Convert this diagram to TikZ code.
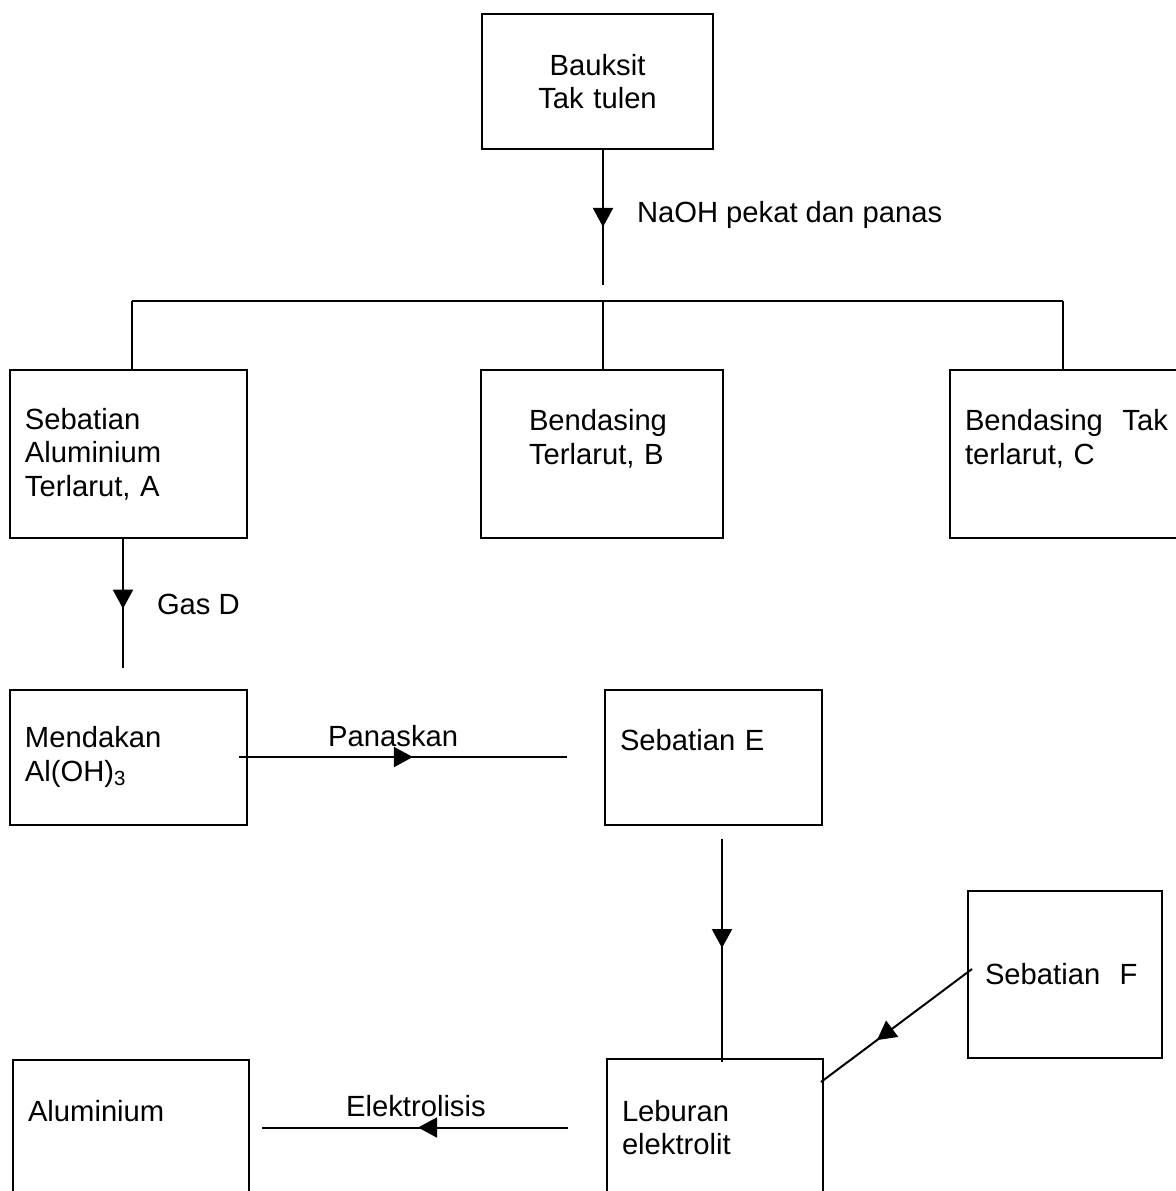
\documentclass[tikz,border=0pt]{standalone}
\usepackage{fontspec}
\setmainfont{Liberation Sans}
\usepackage{tikz}
\usetikzlibrary{arrows.meta, decorations.markings, positioning}
\newcommand{\diafont}{\fontsize{14.6}{16.8}\selectfont}
\tikzset{
  box/.style={rectangle, draw=black, line width=1pt, align=left, inner xsep=7.5pt, inner ysep=0pt, font=\diafont},
  plainline/.style={line width=1pt},
  flowline/.style={line width=1pt, postaction={decorate},
    decoration={markings, mark=at position #1 with {\arrow{Triangle[length=9.5pt, width=10pt]}}}},
  lbl/.style={inner sep=0pt, font=\diafont},
}
\begin{document}
\begin{tikzpicture}[x=0.5pt, y=-0.5pt]
\useasboundingbox (0,0) rectangle (1176,1191);

\node[box, align=center, text width=100.5pt, minimum height=67.5pt] (bauksit) at (597.5,81.5) {Bauksit\\Tak tulen};

\node[box, text width=103.5pt, minimum height=84pt] (solA) at (128.5,454) {Sebatian\\Aluminium\\Terlarut, A};
\node[box, inner xsep=24pt, text width=73pt, minimum height=84pt] (impB) at (602,454) {Bendasing\\Terlarut, B\\\mbox{}};
\node[box, text width=105pt, minimum height=84pt] (impC) at (1070,454) {Bendasing~~Tak\\terlarut, C\\\mbox{}};

\node[box, text width=103.5pt, minimum height=67.5pt] (ppt) at (128.5,757) {Mendakan\\Al(OH)\textsubscript{3}};
\node[box, text width=93.5pt, minimum height=67.5pt] (cmpE) at (713.5,757) {Sebatian E\\\mbox{}};

\node[box, inner xsep=8.5pt, text width=80pt, minimum height=83.5pt] (cmpF) at (1065,974.5) {Sebatian~~F};

\node[box, text width=93pt, minimum height=68.5pt] (melt) at (715,1127.5) {Leburan\\elektrolit};
\node[box, text width=103pt, minimum height=67.5pt] (alum) at (131,1127.5) {Aluminium\\\mbox{}};

% bauksit and the split into A, B, C
\coordinate (tee) at (603,285);
\coordinate (barL) at (132,301);
\coordinate (barM) at (603,301);
\coordinate (barR) at (1063,301);
\draw[flowline=0.57] (bauksit.south -| tee) -- (tee) node[lbl, pos=0.48, anchor=west, xshift=16.5pt] {NaOH pekat dan panas};
\draw[plainline] (barL) -- (barR);
\draw[plainline] (barL) -- (barL |- solA.north);
\draw[plainline] (barM) -- (barM |- impB.north);
\draw[plainline] (barR) -- (barR |- impC.north);

% A to precipitate
\coordinate (gasD) at (123,668);
\draw[flowline=0.54] (solA.south -| gasD) -- (gasD) node[lbl, pos=0.51, anchor=west, xshift=16.5pt] {Gas D};

\draw[flowline=0.53] ([xshift=-4.5pt]ppt.east) -- ([xshift=-18.5pt]cmpE.west) node[lbl, pos=0.47, anchor=south, yshift=4.5pt] {Panaskan};
\draw[flowline=0.49] ([xshift=4.25pt, yshift=-6.5pt]cmpE.south) -- ([xshift=3.5pt, yshift=-2pt]melt.north);
\draw[flowline=0.63] ([xshift=2.5pt, yshift=2.75pt]cmpF.west) -- ([xshift=-1.5pt, yshift=22.75pt]melt.east);
\draw[flowline=0.49] ([xshift=-19pt]melt.west) -- ([xshift=6pt]alum.east) node[lbl, pos=0.497, anchor=south, yshift=4.75pt] {Elektrolisis};
\end{tikzpicture}
\end{document}
